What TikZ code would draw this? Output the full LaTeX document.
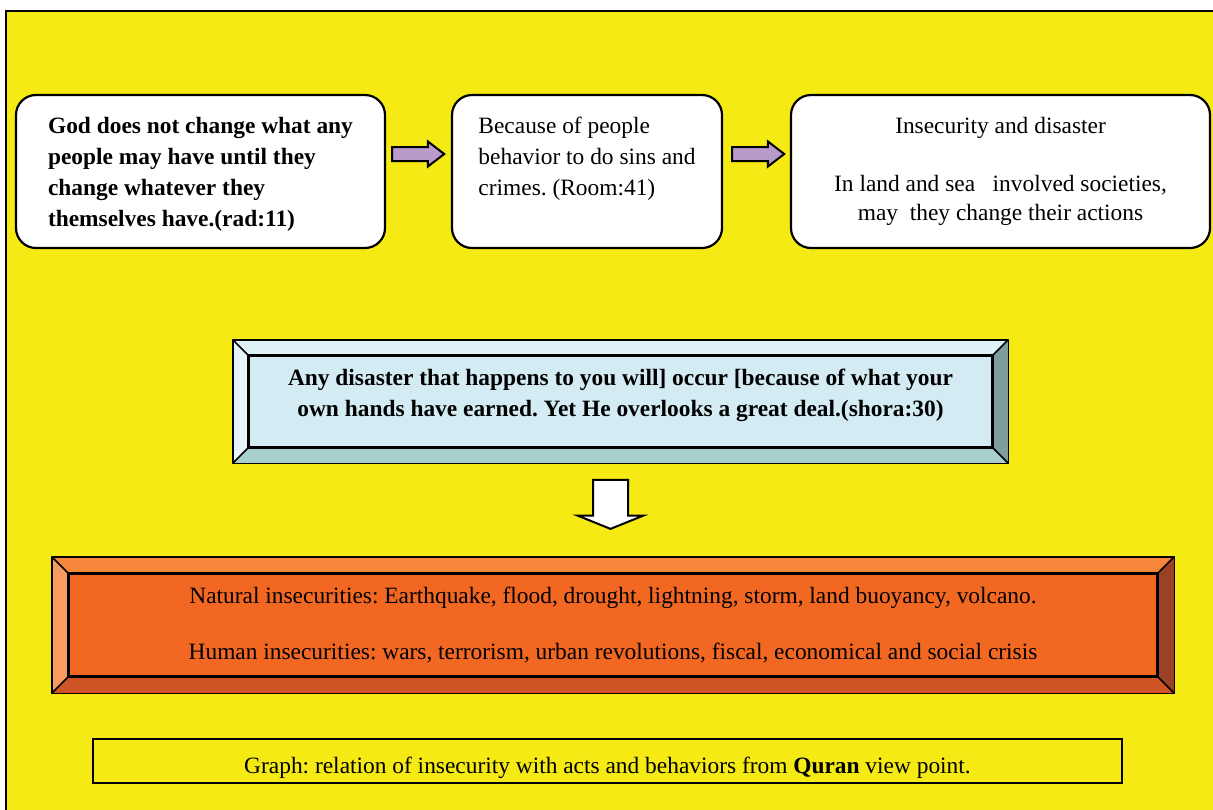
\documentclass[tikz,border=0pt]{standalone}
\usepackage{fontspec}
\setmainfont{Liberation Serif}
\usepackage{tikz}
\usetikzlibrary{positioning,shapes.arrows,calc}
\definecolor{pagebg}{HTML}{F5EA14}
\definecolor{arrowlilac}{HTML}{B99BCB}
\definecolor{iceface}{HTML}{D3ECF3}
\definecolor{icetop}{HTML}{DDF1F6}
\definecolor{iceleft}{HTML}{E5F4F8}
\definecolor{icebottom}{HTML}{A6CFCE}
\definecolor{iceright}{HTML}{7D9E9B}
\definecolor{rustface}{HTML}{F26722}
\definecolor{rusttop}{HTML}{F6873A}
\definecolor{rustleft}{HTML}{F89B62}
\definecolor{rustbottom}{HTML}{CE5426}
\definecolor{rustright}{HTML}{9B4125}
\newcommand{\bodyfont}{\fontsize{11.7pt}{15.5pt}\selectfont\frenchspacing}
\tikzset{
  versebox/.style={draw=black,fill=white,line width=1.1pt,rounded corners=10pt,
                   minimum height=76.5pt,inner sep=0pt,font=\bodyfont},
  blockarrow/.style={single arrow,draw=black,fill=arrowlilac,line width=1pt,
                     inner xsep=10.25pt,inner ysep=3pt,
                     single arrow head extend=2.75pt,single arrow tip angle=75,
                     minimum width=0pt,minimum height=0pt,anchor=tail},
  downarrow/.style={single arrow,draw=black,fill=white,line width=1pt,
                    inner xsep=10pt,inner ysep=8.25pt,
                    single arrow head extend=7.75pt,single arrow tip angle=136,
                    minimum width=0pt,minimum height=0pt,
                    rotate=-90,anchor=tail},
  bevelface/.style={draw=black,line width=0.8pt,inner sep=0pt,align=center,font=\bodyfont},
  bevelline/.style={draw=black,line width=0.8pt,line join=round},
  captionbox/.style={draw=black,fill=pagebg,line width=0.9pt,inner sep=0pt,
                     minimum width=514.5pt,minimum height=22pt,font=\bodyfont}
}
% rim of a raised panel round a node: node, depth, top, right, bottom, left
\newcommand{\bevelrim}[6]{%
  \fill[#3] (#1.north west) -- ++(-#2,-#2) -- ($(#1.north east)+(#2,-#2)$) -- (#1.north east) -- cycle;
  \fill[#4] (#1.north east) -- ++(#2,-#2) -- ($(#1.south east)+(#2,#2)$) -- (#1.south east) -- cycle;
  \fill[#5] (#1.south east) -- ++(#2,#2) -- ($(#1.south west)+(-#2,#2)$) -- (#1.south west) -- cycle;
  \fill[#6] (#1.south west) -- ++(-#2,#2) -- ($(#1.north west)+(-#2,-#2)$) -- (#1.north west) -- cycle;
  \draw[bevelline] ($(#1.north west)+(-#2,-#2)$) rectangle ($(#1.south east)+(#2,#2)$);
  \draw[bevelline] (#1.north west) rectangle (#1.south east);
  \draw[bevelline] (#1.north west) -- ++(-#2,-#2) (#1.north east) -- ++(#2,-#2)
                   (#1.south east) -- ++(#2,#2) (#1.south west) -- ++(-#2,#2);
}

\begin{document}
\begin{tikzpicture}[x=0.5pt,y=-0.5pt]
  \useasboundingbox (0,0) rectangle (1213,809);
  \fill[white] (0,0) rectangle (1213,809);
  \draw[line width=1pt,fill=pagebg] (6,10.5) rectangle (1230,830);
  % the three verses
  \node[versebox,minimum width=184.5pt,align=left,font=\bodyfont\bfseries,text depth=0pt] (rad) at (200.5,171.5)
    {God does not change what any\\people may have until they\\change whatever they\\themselves have.(rad:11)};
  \node[versebox,minimum width=135pt,align=left] (room) at (587,171.5)
    {Because of people\\behavior to do sins and\\crimes. (Room:41)\\\mbox{}};
  \node[versebox,minimum width=209.5pt,align=center,font=\fontsize{11.7pt}{14.5pt}\selectfont] (disaster) at (1000.5,171.5)
    {Insecurity and disaster\\[14.5pt]In land and sea\ \ \ involved societies,\\may\ \ they change their actions};
  \node[blockarrow] (toroom) at ([shift={(5,-17.5)}]rad.east) {};
  \node[blockarrow] (todisaster) at ([shift={(8,-17.5)}]room.east) {};
  % raised panels
  \node[bevelface,fill=iceface,minimum width=371.5pt,minimum height=45.5pt,
        font=\bodyfont\bfseries,text depth=8.5pt] (shora) at (620.5,401.5)
    {Any disaster that happens to you will] occur [because of what your\\own hands have earned. Yet He overlooks a great deal.(shora:30)};
  \bevelrim{shora}{15.5}{icetop}{iceright}{icebottom}{iceleft}
  \node[downarrow] (toinsecure) at ([shift={(-10,31)}]shora.south) {};
  \node[bevelface,fill=rustface,minimum width=544pt,minimum height=51pt] (insecure) at (613,625)
    {Natural insecurities: Earthquake, flood, drought, lightning, storm, land buoyancy, volcano.\\[12.5pt]Human insecurities: wars, terrorism, urban revolutions, fiscal, economical and social crisis};
  \bevelrim{insecure}{16.5}{rusttop}{rustright}{rustbottom}{rustleft}
  \node[captionbox,text height=15pt,text depth=2.5pt] (caption) at (607.5,761)
    {Graph: relation of insecurity with acts and behaviors from \textbf{Quran} view point.};
\end{tikzpicture}
\end{document}
